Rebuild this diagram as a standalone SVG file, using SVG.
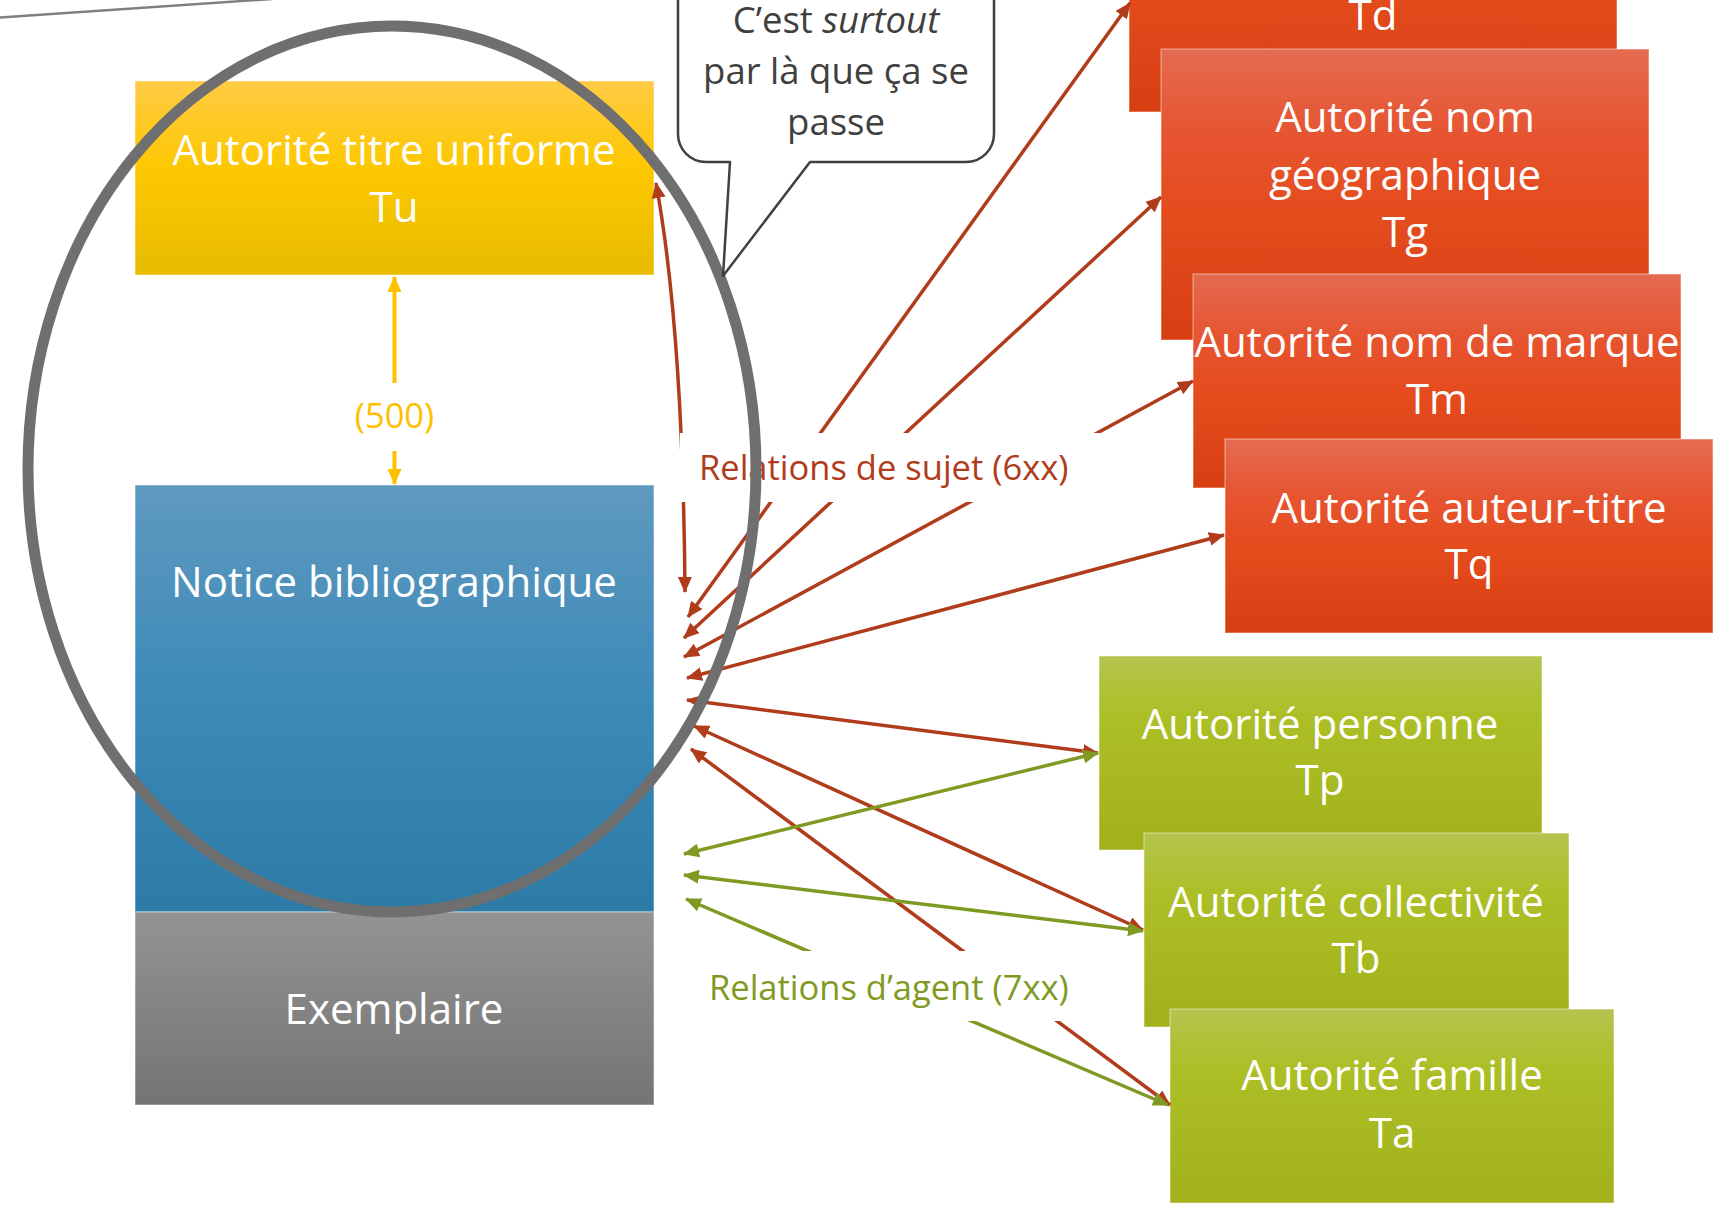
<svg xmlns="http://www.w3.org/2000/svg" width="1719" height="1207" viewBox="0 0 1719 1207">
  <style>
    .nt { font-family: "Open Sans", "Noto Sans", "Liberation Sans", sans-serif; font-size: 42px; fill: #ffffff; text-anchor: middle; }
    .box { stroke: rgba(255,255,255,0.35); stroke-width: 1.5; }
    .red { fill: none; stroke: #B03C1B; stroke-width: 3.5; marker-start: url(#arR); marker-end: url(#arR); }
    .grn { fill: none; stroke: #7F9A23; stroke-width: 3.5; marker-start: url(#arG); marker-end: url(#arG); }
    .lbl { font-family: "Open Sans", "Noto Sans", "Liberation Sans", sans-serif; font-size: 34.5px; }
    .bub { font-family: "Open Sans", "Noto Sans", "Liberation Sans", sans-serif; font-size: 36.5px; fill: #404040; text-anchor: middle; }
  </style>
  <defs>
    <linearGradient id="gY" x1="0" y1="0" x2="0" y2="1">
      <stop offset="0" stop-color="#FFCB45"/>
      <stop offset="0.45" stop-color="#FDC800"/>
      <stop offset="1" stop-color="#E7BB00"/>
    </linearGradient>
    <linearGradient id="gB" x1="0" y1="0" x2="0" y2="1">
      <stop offset="0" stop-color="#5F99C0"/>
      <stop offset="0.5" stop-color="#3C8AB8"/>
      <stop offset="1" stop-color="#2C7AA6"/>
    </linearGradient>
    <linearGradient id="gG" x1="0" y1="0" x2="0" y2="1">
      <stop offset="0" stop-color="#939393"/>
      <stop offset="1" stop-color="#747474"/>
    </linearGradient>
    <linearGradient id="gO" x1="0" y1="0" x2="0" y2="1">
      <stop offset="0" stop-color="#E46B51"/>
      <stop offset="0.3" stop-color="#E65430"/>
      <stop offset="0.55" stop-color="#E54C1E"/>
      <stop offset="1" stop-color="#D73F12"/>
    </linearGradient>
    <linearGradient id="gV" x1="0" y1="0" x2="0" y2="1">
      <stop offset="0" stop-color="#B4C44F"/>
      <stop offset="0.3" stop-color="#ADBF27"/>
      <stop offset="1" stop-color="#A2B11A"/>
    </linearGradient>
    <marker id="arR" viewBox="0 0 16 14" refX="15" refY="7" markerWidth="16" markerHeight="14" markerUnits="userSpaceOnUse" orient="auto-start-reverse">
      <path d="M0,0 L16,7 L0,14 Z" fill="#B03C1B"/>
    </marker>
    <marker id="arG" viewBox="0 0 16 14" refX="15" refY="7" markerWidth="16" markerHeight="14" markerUnits="userSpaceOnUse" orient="auto-start-reverse">
      <path d="M0,0 L16,7 L0,14 Z" fill="#7F9A23"/>
    </marker>
    <marker id="arY" viewBox="0 0 16 14" refX="15" refY="7" markerWidth="16" markerHeight="14" markerUnits="userSpaceOnUse" orient="auto-start-reverse">
      <path d="M0,0 L16,7 L0,14 Z" fill="#FFC000"/>
    </marker>
  </defs>

  <rect width="1719" height="1207" fill="#ffffff"/>

  <!-- decorative line top-left -->
  <line x1="0" y1="17.5" x2="272" y2="-1" stroke="#7F7F7F" stroke-width="2.5"/>

  <!-- left column nodes -->
  <g id="node-tu">
    <rect class="box" x="135" y="81" width="519" height="194" fill="url(#gY)"/>
    <text class="nt" x="394" y="165">Autorité titre uniforme</text>
    <text class="nt" x="394" y="222">Tu</text>
  </g>
  <g id="node-notice">
    <rect class="box" x="135" y="485" width="519" height="427" fill="url(#gB)"/>
    <text class="nt" x="394" y="597">Notice bibliographique</text>
  </g>
  <g id="node-exemplaire">
    <rect class="box" x="135" y="912" width="519" height="193" fill="url(#gG)"/>
    <text class="nt" x="394" y="1024">Exemplaire</text>
  </g>

  <!-- subject authorities -->
  <g id="node-td">
    <rect class="box" x="1129" y="-180" width="488" height="292" fill="url(#gO)"/>
    <text class="nt" x="1373" y="30">Td</text>
  </g>
  <g id="node-tg">
    <rect class="box" x="1161" y="49" width="488" height="291" fill="url(#gO)"/>
    <text class="nt" x="1405" y="132">Autorité nom</text>
    <text class="nt" x="1405" y="190">géographique</text>
    <text class="nt" x="1405" y="247">Tg</text>
  </g>
  <g id="node-tm">
    <rect class="box" x="1193" y="274" width="488" height="214" fill="url(#gO)"/>
    <text class="nt" x="1437" y="357">Autorité nom de marque</text>
    <text class="nt" x="1437" y="414">Tm</text>
  </g>
  <g id="node-tq">
    <rect class="box" x="1225" y="439" width="488" height="194" fill="url(#gO)"/>
    <text class="nt" x="1469" y="523">Autorité auteur-titre</text>
    <text class="nt" x="1469" y="579">Tq</text>
  </g>

  <!-- agent authorities -->
  <g id="node-tp">
    <rect class="box" x="1099" y="656" width="443" height="194" fill="url(#gV)"/>
    <text class="nt" x="1320" y="739">Autorité personne</text>
    <text class="nt" x="1320" y="795">Tp</text>
  </g>
  <g id="node-tb">
    <rect class="box" x="1144" y="833" width="425" height="194" fill="url(#gV)"/>
    <text class="nt" x="1356" y="917">Autorité collectivité</text>
    <text class="nt" x="1356" y="973">Tb</text>
  </g>
  <g id="node-ta">
    <rect class="box" x="1170" y="1009" width="444" height="194" fill="url(#gV)"/>
    <text class="nt" x="1392" y="1090">Autorité famille</text>
    <text class="nt" x="1392" y="1148">Ta</text>
  </g>

  <!-- connectors -->
  <g id="connectors">
    <line x1="394.5" y1="277" x2="394.5" y2="484" stroke="#FFC000" stroke-width="4" marker-start="url(#arY)" marker-end="url(#arY)"/>
    <path class="red" d="M656,183 Q683,330 685,592"/>
    <line class="red" x1="1130" y1="3" x2="688" y2="617"/>
    <line class="red" x1="1161" y1="197" x2="684" y2="638"/>
    <line class="red" x1="1193" y1="381" x2="684" y2="657"/>
    <line class="red" x1="1224" y1="535" x2="687" y2="678"/>
    <line class="red" x1="687" y1="700" x2="1098" y2="753"/>
    <line class="red" x1="694" y1="726" x2="1143" y2="930"/>
    <line class="red" x1="691" y1="749" x2="1170" y2="1105"/>
    <line class="grn" x1="684" y1="854" x2="1098" y2="753"/>
    <line class="grn" x1="684" y1="875" x2="1143" y2="931"/>
    <line class="grn" x1="686" y1="899" x2="1168" y2="1105"/>
  </g>

  <!-- connector labels -->
  <g id="label-500">
    <rect x="340" y="383" width="110" height="68" fill="#ffffff"/>
    <text class="lbl" x="394.5" y="428" fill="#FFC000" text-anchor="middle">(500)</text>
  </g>
  <g id="label-sujet">
    <rect x="680" y="433" width="420" height="69" fill="#ffffff"/>
    <text class="lbl" x="699" y="480" fill="#B03C1B">Relations de sujet (6xx)</text>
  </g>
  <g id="label-agent">
    <rect x="700" y="951" width="380" height="70" fill="#ffffff"/>
    <text class="lbl" x="709" y="1000" fill="#7F9A23">Relations d’agent (7xx)</text>
  </g>

  <!-- highlight ellipse -->
  <ellipse id="highlight" cx="392" cy="469" rx="364" ry="443" fill="none" stroke="#6F6F6F" stroke-width="11"/>

  <!-- callout -->
  <g id="callout">
    <path d="M706,-40 H966 A28,28 0 0 1 994,-12 V134 A28,28 0 0 1 966,162 H810 L723,276 L730,162 H706 A28,28 0 0 1 678,134 V-12 A28,28 0 0 1 706,-40 Z" fill="#ffffff" stroke="#404040" stroke-width="2.5" stroke-linejoin="round"/>
    <text class="bub" x="836" y="33">C’est <tspan font-style="italic">surtout</tspan></text>
    <text class="bub" x="836" y="84">par là que ça se</text>
    <text class="bub" x="836" y="135">passe</text>
  </g>
</svg>
